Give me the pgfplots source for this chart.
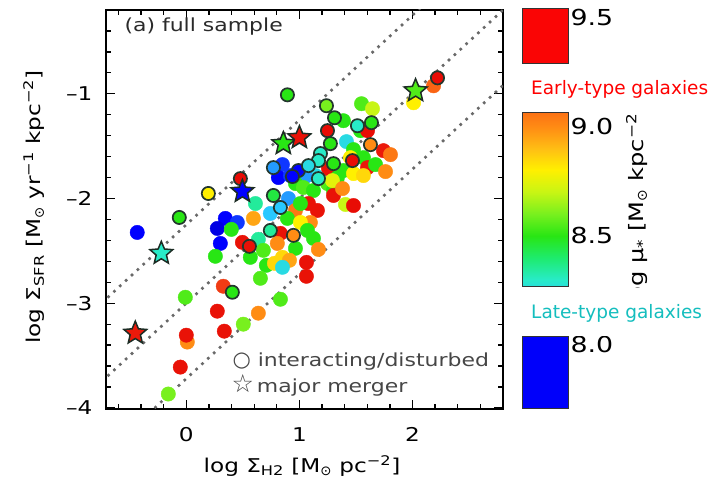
\documentclass[border=0pt]{standalone}
\usepackage{fontspec}
\setmainfont{DejaVu Sans}[FakeStretch=1.22]
\newfontfamily\symfont{DejaVu Sans}
\usepackage{pgfplots}
\pgfplotsset{compat=1.18}
\definecolor{dotgray}{RGB}{105,105,105}
\definecolor{txtgray}{RGB}{70,70,70}
\definecolor{ringcol}{RGB}{35,55,45}
\definecolor{latecol}{RGB}{20,190,190}
\pgfdeclareplotmark{fstar}{%
  \pgfpathmoveto{\pgfpointpolar{90}{\pgfplotmarksize}}%
  \pgfpathlineto{\pgfpointpolar{126}{0.45\pgfplotmarksize}}%
  \pgfpathlineto{\pgfpointpolar{162}{\pgfplotmarksize}}%
  \pgfpathlineto{\pgfpointpolar{198}{0.45\pgfplotmarksize}}%
  \pgfpathlineto{\pgfpointpolar{234}{\pgfplotmarksize}}%
  \pgfpathlineto{\pgfpointpolar{270}{0.45\pgfplotmarksize}}%
  \pgfpathlineto{\pgfpointpolar{306}{\pgfplotmarksize}}%
  \pgfpathlineto{\pgfpointpolar{342}{0.45\pgfplotmarksize}}%
  \pgfpathlineto{\pgfpointpolar{18}{\pgfplotmarksize}}%
  \pgfpathlineto{\pgfpointpolar{54}{0.45\pgfplotmarksize}}%
  \pgfpathclose
  \pgfusepathqfillstroke
}
\pgfplotsset{colormap={mu}{
 rgb255(0cm)=(0,0,200) rgb255(1cm)=(0,0,255) rgb255(2cm)=(30,110,255)
 rgb255(3cm)=(40,200,255) rgb255(4cm)=(40,235,200) rgb255(5cm)=(30,235,110)
 rgb255(6cm)=(40,230,20) rgb255(7cm)=(120,240,30) rgb255(8cm)=(200,245,20)
 rgb255(9cm)=(255,240,0) rgb255(10cm)=(255,190,20) rgb255(11cm)=(255,140,20)
 rgb255(12cm)=(250,100,20) rgb255(13cm)=(240,60,20) rgb255(14cm)=(235,25,10)
 rgb255(15cm)=(232,12,5) rgb255(16cm)=(230,0,0)}}

\pgfplotstableread{
x y c
2.186 -0.924 9.1
2.009 -1.086 8.8
1.549 -1.095 8.55
1.646 -1.143 8.7
1.389 -1.257 8.5
1.540 -1.352 8.5
1.602 -1.352 9.4
1.416 -1.457 8.25
1.743 -1.543 9.3
1.805 -1.581 9.05
1.478 -1.533 8.5
1.451 -1.610 8.8
1.566 -1.610 8.5
1.602 -1.705 9.3
1.673 -1.676 8.5
1.761 -1.743 9.0
1.389 -1.733 8.5
1.478 -1.762 8.8
1.566 -1.781 8.85
1.257 -1.714 9.35
1.142 -1.781 8.25
0.850 -1.676 8.05
0.814 -1.800 8.0
0.920 -1.781 8.05
1.053 -1.790 8.15
0.965 -1.857 8.5
1.035 -1.895 8.55
1.124 -1.924 8.5
1.248 -1.857 8.55
1.301 -1.924 8.5
1.336 -1.800 8.5
1.292 -1.829 8.75
0.903 -2.000 8.15
0.611 -2.048 8.35
0.593 -2.190 8.95
0.743 -2.143 8.2
0.965 -2.114 9.05
1.080 -2.048 9.35
1.159 -2.114 9.35
1.009 -2.048 8.5
0.894 -2.190 8.5
1.097 -2.229 9.0
1.009 -2.229 8.8
1.301 -1.971 9.35
1.381 -1.905 9.0
1.407 -2.057 8.7
1.478 -2.067 9.4
-0.434 -2.324 8.0
0.345 -2.190 8.0
0.274 -2.286 7.95
0.451 -2.229 8.05
0.398 -2.295 8.5
0.301 -2.429 8.0
0.257 -2.552 8.5
0.832 -2.333 9.35
1.071 -2.305 8.5
1.124 -2.381 8.5
0.637 -2.390 8.35
0.496 -2.419 9.35
0.681 -2.495 8.55
0.805 -2.429 9.0
0.965 -2.476 8.5
1.168 -2.486 9.0
0.566 -2.562 8.5
0.850 -2.562 8.85
0.912 -2.590 8.95
0.708 -2.638 8.5
0.779 -2.619 8.85
0.850 -2.657 8.25
1.062 -2.610 9.35
1.062 -2.743 9.35
0.655 -2.762 8.55
0.327 -2.838 9.2
-0.009 -2.943 8.55
0.832 -2.962 8.55
0.274 -3.076 9.35
0.637 -3.095 9.0
0.336 -3.267 9.35
0.504 -3.200 8.6
0.009 -3.371 9.0
0.000 -3.305 9.35
-0.053 -3.610 9.35
-0.159 -3.867 8.6
}\plaintable

\pgfplotstableread{
x y c
2.221 -0.848 9.4
0.894 -1.010 8.5
1.239 -1.114 8.6
1.310 -1.229 8.5
1.248 -1.352 9.4
1.513 -1.305 8.3
1.637 -1.276 8.5
1.274 -1.476 8.5
1.628 -1.486 9.0
1.186 -1.571 8.3
1.168 -1.638 8.3
1.469 -1.638 9.4
1.301 -1.667 8.5
1.168 -1.810 8.3
0.770 -1.705 8.15
0.991 -1.733 8.0
1.080 -1.686 8.25
0.938 -1.790 8.0
0.478 -1.810 9.4
0.195 -1.952 8.8
0.770 -1.971 8.45
0.832 -2.086 8.2
-0.062 -2.181 8.5
0.743 -2.305 8.35
0.947 -2.352 9.0
0.558 -2.457 9.35
0.407 -2.895 8.5
}\ringtable

\pgfplotstableread{
x y c
2.027 -0.971 8.55
0.858 -1.476 8.5
1.000 -1.419 9.35
0.496 -1.933 8.0
-0.221 -2.524 8.3
-0.451 -3.286 9.3
}\startable

\pgfplotstableread{
x y
0 8.266
1 8.266

0 8.35
1 8.35

0 8.45
1 8.45

0 8.55
1 8.55

0 8.65
1 8.65

0 8.75
1 8.75

0 8.85
1 8.85

0 8.95
1 8.95

0 9.064
1 9.064
}\bartable

\begin{document}
\begin{tikzpicture}
\useasboundingbox (0,0) rectangle (719bp,486bp);
\begin{axis}[
  at={(106bp,77bp)}, anchor=south west,
  scale only axis, width=397bp, height=399bp,
  xmin=-0.71, xmax=2.8, ymin=-4.01, ymax=-0.2,
  xtick={0,1,2}, xticklabels={0,1,2},
  ytick={-4,-3,-2,-1}, yticklabels={–4,–3,–2,–1},
  minor xtick={-0.6,-0.4,-0.2,0.2,0.4,0.6,0.8,1.2,1.4,1.6,1.8,2.2,2.4,2.6},
  minor ytick={-3.8,-3.6,-3.4,-3.2,-2.8,-2.6,-2.4,-2.2,-1.8,-1.6,-1.4,-1.2,-0.8,-0.6,-0.4},
  tick align=inside, major tick length=9bp, minor tick length=5bp,
  every tick/.style={black, line width=1.3bp},
  axis line style={line width=1.8bp},
  tick label style={font=\fontsize{19bp}{21bp}\selectfont},
  xticklabel style={yshift=-15bp},
  yticklabel style={xshift=-10bp},
  colormap name=mu, point meta min=7.9, point meta max=9.5,
]
\addplot[dotgray, line width=2.6bp, dash pattern=on 2.6bp off 5.4bp] coordinates {(-0.8,-3.05) (2.9,0.65)};
\addplot[dotgray, line width=2.6bp, dash pattern=on 2.6bp off 5.4bp] coordinates {(-0.8,-3.8) (2.9,-0.1)};
\addplot[dotgray, line width=2.6bp, dash pattern=on 2.6bp off 5.4bp] coordinates {(-0.8,-4.52) (2.9,-0.82)};

\addplot[scatter, only marks, mark=*, mark size=7.2bp, point meta=explicit,
  scatter/use mapped color={draw=mapped color, fill=mapped color}]
  table[x=x, y=y, meta=c] {\plaintable};
\addplot[scatter, only marks, mark=*, mark size=6.6bp, point meta=explicit,
  mark options={line width=1.7bp},
  scatter/use mapped color={draw=ringcol, fill=mapped color}]
  table[x=x, y=y, meta=c] {\ringtable};
\addplot[scatter, only marks, mark=fstar, mark size=12bp, point meta=explicit,
  mark options={line width=1.5bp, line join=miter},
  scatter/use mapped color={draw=ringcol!80!black, fill=mapped color}]
  table[x=x, y=y, meta=c] {\startable};
\end{axis}

% colour bar
\begin{axis}[
  at={(522bp,77bp)}, anchor=south west,
  scale only axis, width=46bp, height=400bp,
  xmin=0, xmax=1, ymin=7.706, ymax=9.54,
  axis line style={draw=none}, xtick=\empty,
  ytick={8,8.5,9,9.5}, yticklabels={8.0,8.5,9.0,9.5},
  yticklabel pos=right, major tick length=0pt,
  yticklabel style={font=\fontsize{22bp}{24bp}\selectfont, xshift=-1bp},
  colormap name=mu, point meta min=7.9, point meta max=9.5, clip=false,
]
\addplot[fill={rgb,255:red,250;green,5;blue,5}, draw=black!80, line width=1bp] coordinates {(0,9.29) (1,9.29) (1,9.54) (0,9.54)} -- cycle;
\addplot[surf, shader=interp, mesh/rows=9, point meta=y] table[x=x, y=y] {\bartable};
\addplot[draw=black!80, line width=1bp, fill=none] coordinates {(0,8.266) (1,8.266) (1,9.064) (0,9.064)} -- cycle;
\addplot[fill={rgb,255:red,0;green,0;blue,250}, draw=black!80, line width=1bp] coordinates {(0,7.706) (1,7.706) (1,8.037) (0,8.037)} -- cycle;
\end{axis}

\node[rotate=90, font=\fontsize{19.8bp}{22bp}\selectfont] at (637bp,280bp) {log μ\textsubscript{*} [M\textsubscript{\symfont ⊙} kpc\textsuperscript{−2}]};
\fill[white] (512bp,374bp) rectangle (719bp,422bp);
\fill[white] (512bp,150bp) rectangle (719bp,198bp);
\node[anchor=west, text=red, font=\symfont\fontsize{18.5bp}{20bp}\selectfont, inner sep=0pt] at (531bp,397bp) {Early-type galaxies};
\node[anchor=west, text=latecol, font=\symfont\fontsize{18.5bp}{20bp}\selectfont, inner sep=0pt] at (531bp,173bp) {Late-type galaxies};

% panel text and legend
\node[anchor=west, font=\fontsize{18bp}{20bp}\selectfont, text=txtgray!60!black] at (121bp,459bp) {(a) full sample};
\node[anchor=west, font=\fontsize{18bp}{20bp}\selectfont, text=txtgray] at (229bp,124bp) {{\symfont\fontsize{21bp}{21bp}\selectfont ○}\ interacting/disturbed};
\node[anchor=west, font=\fontsize{18bp}{20bp}\selectfont, text=txtgray] at (228bp,101bp) {{\symfont\fontsize{25bp}{25bp}\selectfont ☆}\,major merger};

% axis titles
\node[font=\fontsize{19bp}{21bp}\selectfont] at (302bp,20bp) {log Σ\textsubscript{H2} [M\textsubscript{\symfont ⊙} pc\textsuperscript{−2}]};
\node[rotate=90, font=\fontsize{19bp}{21bp}\selectfont] at (34bp,279bp) {log Σ\textsubscript{SFR} [M\textsubscript{\symfont ⊙} yr\textsuperscript{−1} kpc\textsuperscript{−2}]};
\end{tikzpicture}
\end{document}
